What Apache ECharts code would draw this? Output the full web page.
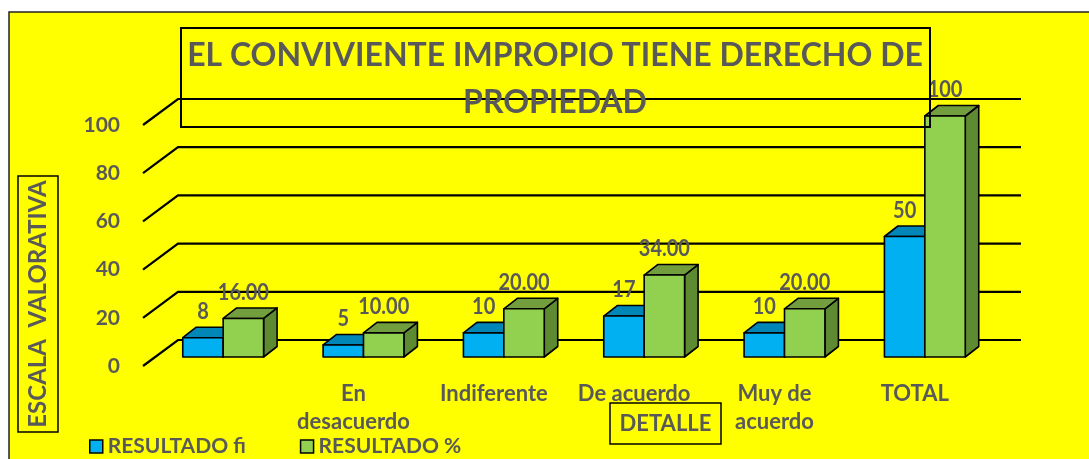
<!DOCTYPE html>
<html>
<head>
<meta charset="utf-8">
<script src="https://cdn.jsdelivr.net/npm/echarts@6/dist/echarts.min.js"></script>
<style>
  html, body { margin: 0; padding: 0; background: #fff; }
  #chart { width: 1089px; height: 459px; }
</style>
</head>
<body>
<div id="chart"></div>
<script>
// datos del gráfico
const categories = ['', 'En\ndesacuerdo', 'Indiferente', 'De acuerdo', 'Muy de\nacuerdo', 'TOTAL'];
const fiValues = [8, 5, 10, 17, 10, 50];
const pctValues = [16, 10, 20, 34, 20, 100];
const pctLabels = ['16.00', '10.00', '20.00', '34.00', '20.00', '100'];
const yTicks = [0, 20, 40, 60, 80, 100];

const GRAY = '#595959';
const FONT = 'Lato';

// desplazamiento del plano de barras y profundidad 3D
const PLANE_X = 10, PLANE_Y = -9;
const DEPTH_X = 13.5, DEPTH_Y = -10.5;
const WALL_X = 35, WALL_Y = -26;

function renderGridLine(params, api) {
    const p = api.coord([0, api.value(1)]);
    const x0 = params.coordSys.x;
    const x1 = x0 + params.coordSys.width;
    const y = p[1];
    return {
        type: 'polyline',
        shape: { points: [[x0, y], [x0 + WALL_X, y + WALL_Y], [x1 + WALL_X + 1, y + WALL_Y]] },
        style: { stroke: '#000', lineWidth: 2.2, fill: null }
    };
}

function makeBarRenderer(isLeft, front, topC, sideC, labels) {
    return function (params, api) {
        const idx = api.value(0);
        const val = api.value(1);
        const top = api.coord([idx, val]);
        const base = api.coord([idx, 0]);
        const w = api.size([1, 0])[0] * 0.288;
        const x = top[0] + PLANE_X + (isLeft ? -w : 0);
        const yT = top[1] + PLANE_Y;
        const yB = base[1] + PLANE_Y;
        const line = { stroke: '#000', lineWidth: 1.6, lineJoin: 'round' };
        return {
            type: 'group',
            children: [
                {
                    type: 'polygon',
                    shape: { points: [[x + w, yT], [x + w + DEPTH_X, yT + DEPTH_Y], [x + w + DEPTH_X, yB + DEPTH_Y], [x + w, yB]] },
                    style: Object.assign({ fill: sideC }, line)
                },
                {
                    type: 'polygon',
                    shape: { points: [[x, yT], [x + DEPTH_X, yT + DEPTH_Y], [x + w + DEPTH_X, yT + DEPTH_Y], [x + w, yT]] },
                    style: Object.assign({ fill: topC }, line)
                },
                {
                    type: 'rect',
                    shape: { x: x, y: yT, width: w, height: yB - yT },
                    style: Object.assign({ fill: front }, line)
                },
                {
                    type: 'text',
                    x: x + w / 2,
                    y: yT - 26,
                    scaleY: 1.15,
                    style: {
                        text: labels[params.dataIndex],
                        fill: GRAY,
                        font: 'bold 20px ' + FONT,
                        align: 'center',
                        verticalAlign: 'middle'
                    }
                }
            ]
        };
    };
}

const chart = echarts.init(document.getElementById('chart'));

const option = {
    backgroundColor: '#FFFF00',
    animation: false,
    grid: { left: 143, right: 104, top: 125, bottom: 93 },
    xAxis: {
        type: 'category',
        data: categories,
        axisLine: { show: false },
        axisTick: { show: false },
        axisLabel: {
            color: GRAY,
            fontFamily: FONT,
            fontWeight: 'bold',
            fontSize: 22,
            lineHeight: 28,
            margin: 14,
            interval: 0
        }
    },
    yAxis: {
        type: 'value',
        min: 0,
        max: 100,
        interval: 20,
        axisLine: { show: false },
        axisTick: { show: false },
        splitLine: { show: false },
        axisLabel: {
            color: GRAY,
            fontFamily: FONT,
            fontWeight: 'bold',
            fontSize: 21,
            margin: 23
        }
    },
    legend: {
        left: 84,
        top: 431,
        itemWidth: 13,
        itemHeight: 13,
        itemGap: 54,
        icon: 'rect',
        data: ['RESULTADO fi', 'RESULTADO %'],
        itemStyle: { borderColor: '#000', borderWidth: 1.5 },
        textStyle: {
            color: GRAY,
            fontFamily: FONT,
            fontWeight: 'bold',
            fontSize: 21
        }
    },
    series: [
        {
            type: 'custom',
            name: 'grid3d',
            clip: false,
            silent: true,
            z: 1,
            data: yTicks.map(v => [0, v]),
            renderItem: renderGridLine
        },
        {
            type: 'custom',
            name: 'RESULTADO fi',
            clip: false,
            z: 2,
            itemStyle: { color: '#00B0F0' },
            data: fiValues.map((v, i) => [i, v]),
            renderItem: makeBarRenderer(true, '#00B0F0', '#0087B8', '#006E96', fiValues.map(String))
        },
        {
            type: 'custom',
            name: 'RESULTADO %',
            clip: false,
            z: 3,
            itemStyle: { color: '#92D050' },
            data: pctValues.map((v, i) => [i, v]),
            renderItem: makeBarRenderer(false, '#92D050', '#739E3E', '#5E8A32', pctLabels)
        }
    ],
    graphic: [
        { type: 'rect', z: 50, shape: { x: 0, y: 0, width: 1089, height: 12 }, style: { fill: '#fff' } },
        { type: 'rect', z: 50, shape: { x: 0, y: 0, width: 9, height: 459 }, style: { fill: '#fff' } },
        { type: 'polyline', z: 51, shape: { points: [[9, 459], [9, 12], [1089, 12]] }, style: { stroke: '#222', lineWidth: 1.5, fill: null } },
        // título
        { type: 'rect', z: 60, shape: { x: 181, y: 28, width: 749, height: 99 }, style: { fill: null, stroke: '#000', lineWidth: 2 } },
        {
            type: 'text', z: 61, x: 555, y: 56,
            style: { text: 'EL CONVIVIENTE IMPROPIO TIENE DERECHO DE', fill: GRAY, font: 'bold 32px ' + FONT, align: 'center', verticalAlign: 'middle' }
        },
        {
            type: 'text', z: 61, x: 555, y: 103,
            style: { text: 'PROPIEDAD', fill: GRAY, font: 'bold 32px ' + FONT, align: 'center', verticalAlign: 'middle' }
        },
        // nombre del eje Y
        { type: 'rect', z: 60, shape: { x: 18, y: 176, width: 40, height: 256 }, style: { fill: null, stroke: '#000', lineWidth: 1.5 } },
        {
            type: 'text', z: 61, x: 38, y: 304, rotation: Math.PI / 2,
            style: { text: 'ESCALA  VALORATIVA', fill: GRAY, font: 'bold 24px ' + FONT, align: 'center', verticalAlign: 'middle' }
        },
        // nombre del eje X
        { type: 'rect', z: 60, shape: { x: 610, y: 403, width: 111, height: 41 }, style: { fill: null, stroke: '#000', lineWidth: 1.5 } },
        {
            type: 'text', z: 61, x: 665.5, y: 424,
            style: { text: 'DETALLE', fill: GRAY, font: 'bold 22px ' + FONT, align: 'center', verticalAlign: 'middle' }
        }
    ]
};

chart.setOption(option);

window.addEventListener('resize', () => {
    chart.resize();
});
</script>
</body>
</html>
